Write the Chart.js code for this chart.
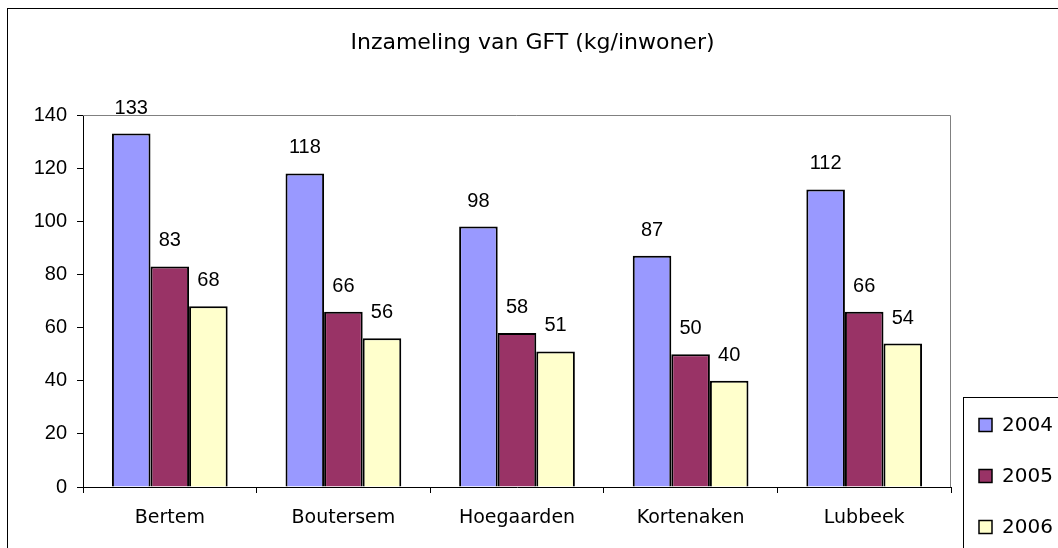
<!DOCTYPE html>
<html>
<head>
<meta charset="utf-8">
<title>Inzameling van GFT</title>
<script src="https://cdn.jsdelivr.net/npm/chart.js@4.4.1/dist/chart.umd.min.js"></script>
<style>
  html, body { margin: 0; padding: 0; background: #fff; overflow: hidden; }
  #gftChart { display: block; }
</style>
</head>
<body>
<canvas id="gftChart" width="1058" height="548"></canvas>
<script>
// GFT-inzameling per gemeente - bar chart

const chartTitle = 'Inzameling van GFT (kg/inwoner)';
const gemeenten = ['Bertem', 'Boutersem', 'Hoegaarden', 'Kortenaken', 'Lubbeek'];
const jaren = ['2004', '2005', '2006'];
const waarden2004 = [133, 118, 98, 87, 112];
const waarden2005 = [83, 66, 58, 50, 66];
const waarden2006 = [68, 56, 51, 40, 54];
const yTicks = [0, 20, 40, 60, 80, 100, 120, 140];

const kleuren = ['#9999ff', '#993366', '#ffffcc'];
const tahoma = "'DejaVu Sans', Verdana, sans-serif";
const arial = "'Liberation Sans', Arial, sans-serif";

// white page + outer chart frame (right/bottom edges fall outside the crop)
const framePlugin = {
    id: 'frame',
    beforeDraw(chart) {
        const ctx = chart.ctx;
        ctx.save();
        ctx.fillStyle = '#fff';
        ctx.fillRect(0, 0, chart.width, chart.height);
        ctx.strokeStyle = '#000';
        ctx.lineWidth = 1;
        ctx.strokeRect(7.5, 8.5, chart.width + 20, chart.height + 20);
        ctx.restore();
    }
};

// grey top and right edge of the plot area
const plotBorderPlugin = {
    id: 'plotBorder',
    beforeDatasetsDraw(chart) {
        const a = chart.chartArea;
        const ctx = chart.ctx;
        ctx.save();
        ctx.strokeStyle = '#808080';
        ctx.lineWidth = 1;
        ctx.beginPath();
        ctx.moveTo(a.left, a.top + 0.5);
        ctx.lineTo(a.right - 0.5, a.top + 0.5);
        ctx.lineTo(a.right - 0.5, a.bottom);
        ctx.stroke();
        ctx.restore();
    }
};

// value above each bar
const valueLabelPlugin = {
    id: 'valueLabels',
    afterDatasetsDraw(chart) {
        const ctx = chart.ctx;
        ctx.save();
        ctx.font = '20px ' + arial;
        ctx.fillStyle = '#000';
        ctx.textAlign = 'center';
        ctx.textBaseline = 'alphabetic';
        chart.data.datasets.forEach((ds, i) => {
            chart.getDatasetMeta(i).data.forEach((bar, j) => {
                ctx.fillText(String(ds.data[j]), bar.x, bar.y - 20);
            });
        });
        ctx.restore();
    }
};

// title centred on the whole chart frame
const titlePlugin = {
    id: 'frameTitle',
    afterDraw(chart) {
        const ctx = chart.ctx;
        ctx.save();
        ctx.font = '22px ' + tahoma;
        ctx.fillStyle = '#000';
        ctx.textAlign = 'center';
        ctx.textBaseline = 'middle';
        ctx.fillText(chartTitle, (7 + chart.width) / 2, 43);
        ctx.restore();
    }
};

// boxed legend in the lower right corner
const boxLegendPlugin = {
    id: 'boxLegend',
    afterDraw(chart) {
        const ctx = chart.ctx;
        const left = chart.chartArea.right + 12;
        const top = 397;
        ctx.save();
        ctx.strokeStyle = '#000';
        ctx.lineWidth = 1;
        ctx.strokeRect(left + 0.5, top + 0.5, 200, 300);
        ctx.font = '20px ' + tahoma;
        ctx.textAlign = 'left';
        ctx.textBaseline = 'middle';
        chart.data.datasets.forEach((ds, i) => {
            const cy = top + 28 + i * 51;
            ctx.fillStyle = ds.backgroundColor;
            ctx.fillRect(left + 16, cy - 6.5, 13, 13);
            ctx.strokeStyle = '#000';
            ctx.lineWidth = 1.5;
            ctx.strokeRect(left + 16, cy - 6.5, 13, 13);
            ctx.fillStyle = '#000';
            ctx.fillText(ds.label, left + 39, cy + 1);
        });
        ctx.restore();
    }
};

function makeDataset(label, data, color) {
    return {
        label: label,
        data: data,
        backgroundColor: color,
        borderColor: '#000',
        borderWidth: 2,
        borderSkipped: 'bottom',
        categoryPercentage: 3 / 4.5,
        barPercentage: 1.0
    };
}

const ctx = document.getElementById('gftChart').getContext('2d');

new Chart(ctx, {
    type: 'bar',
    data: {
        labels: gemeenten,
        datasets: [
            makeDataset(jaren[0], waarden2004, kleuren[0]),
            makeDataset(jaren[1], waarden2005, kleuren[1]),
            makeDataset(jaren[2], waarden2006, kleuren[2])
        ]
    },
    options: {
        responsive: false,
        animation: false,
        layout: {
            padding: { top: 115, right: 107, bottom: 0, left: 0 }
        },
        plugins: {
            legend: { display: false },
            title: { display: false },
            tooltip: { enabled: false }
        },
        scales: {
            x: {
                offset: true,
                afterFit(scale) { scale.height = 61; },
                border: { color: '#000', width: 1 },
                grid: {
                    offset: true,
                    drawOnChartArea: false,
                    drawTicks: true,
                    tickLength: 6,
                    color: '#000'
                },
                ticks: {
                    color: '#000',
                    padding: 14,
                    font: { family: tahoma, size: 19 }
                }
            },
            y: {
                min: yTicks[0],
                max: yTicks[yTicks.length - 1],
                afterFit(scale) { scale.width = 83; },
                border: { color: '#000', width: 1 },
                grid: {
                    drawOnChartArea: false,
                    drawTicks: true,
                    tickLength: 6,
                    color: '#000'
                },
                ticks: {
                    stepSize: yTicks[1] - yTicks[0],
                    color: '#000',
                    padding: 10,
                    font: { family: arial, size: 20 }
                }
            }
        }
    },
    plugins: [framePlugin, plotBorderPlugin, valueLabelPlugin, titlePlugin, boxLegendPlugin]
});
</script>
</body>
</html>
